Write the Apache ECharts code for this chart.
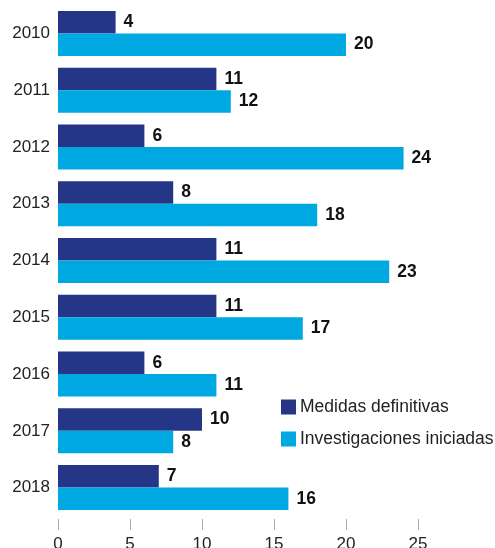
<!DOCTYPE html>
<html><head><meta charset="utf-8">
<script src="https://cdn.jsdelivr.net/npm/echarts@6/dist/echarts.min.js"></script>
<style>html,body{margin:0;padding:0;background:#fff}#c{width:495px;height:548px}</style>
</head><body><div id="c"></div>
<script>
const years = ['2010','2011','2012','2013','2014','2015','2016','2017','2018'];
const medidas = [4, 11, 6, 8, 11, 11, 6, 10, 7];
const investigaciones = [20, 12, 24, 18, 23, 17, 11, 8, 16];
const xTicks = [0, 5, 10, 15, 20, 25];
const font = 'Liberation Sans, Arial, sans-serif';
const chart = echarts.init(document.getElementById('c'));
const lbl = {show:true, position:'right', distance:8, color:'#111', fontWeight:'bold', fontSize:17.5, fontFamily:font};
chart.setOption({
  animation:false,
  grid:{left:58, top:5, width:360, height:511, containLabel:false, outerBoundsMode:'none'},
  legend:{orient:'vertical', left:281, top:398, itemWidth:15, itemHeight:15, itemGap:14, padding:0, icon:'rect',
    textStyle:{fontSize:17.5, color:'#222', fontFamily:font, padding:[0,0,0,-1]}},
  xAxis:{type:'value', min:xTicks[0], max:xTicks[xTicks.length-1], interval:5,
    axisLine:{show:false}, splitLine:{show:false},
    axisTick:{show:true, length:11, lineStyle:{color:'#aaa'}}, offset:3,
    axisLabel:{fontSize:17, color:'#222', fontFamily:font, margin:17}},
  yAxis:{type:'category', data:years, inverse:true,
    axisLine:{show:false}, axisTick:{show:false},
    axisLabel:{fontSize:17, color:'#222', fontFamily:font, margin:8}},
  series:[
    {name:'Medidas definitivas', type:'bar', data:medidas, itemStyle:{color:'#253687'}, barGap:'0%', barCategoryGap:'20.7%', label:lbl},
    {name:'Investigaciones iniciadas', type:'bar', data:investigaciones, itemStyle:{color:'#00a8e1'}, barGap:'0%', barCategoryGap:'20.7%', label:lbl}
  ]
});
</script></body></html>
